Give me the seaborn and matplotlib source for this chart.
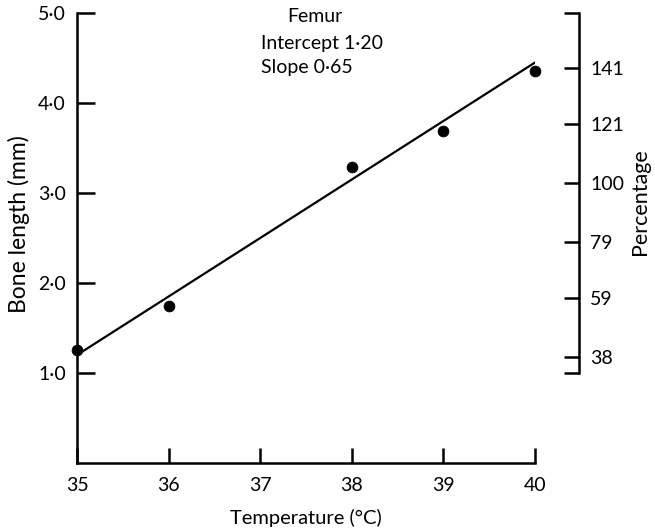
import matplotlib
matplotlib.use("Agg")
import matplotlib.pyplot as plt
import seaborn as sns
import pandas as pd
import numpy as np

# ---- data ----
temps = [35, 36, 38, 39, 40]
lengths = [1.26, 1.74, 3.29, 3.69, 4.36]
fit_temps = [35, 40]
intercept = 1.20
slope = 0.65
x_ticks = [35, 36, 37, 38, 39, 40]
x_labels = ["35", "36", "37", "38", "39", "40"]
y_ticks = [1.0, 2.0, 3.0, 4.0, 5.0]
y_labels = ["1·0", "2·0", "3·0", "4·0", "5·0"]
pct_ticks = [38, 59, 79, 100, 121, 141]
pct_labels = ["38", "59", "79", "100", "121", "141"]
ref_length = 3.11  # mm corresponding to 100 %

sns.set_theme(style="ticks")
plt.rcParams["font.family"] = ["Lato", "DejaVu Sans"]

TICK_FS = 14
ANN_FS = 14
XLAB_FS = 14.5
YLAB_FS = 16.5
PLAB_FS = 15.5

fig = plt.figure(figsize=(6.55, 5.32), dpi=100)
ax = fig.add_axes([77/655, 1-463/532, (535-77)/655, (463-13)/532])

df = pd.DataFrame({"T": temps, "L": lengths})
fit = pd.DataFrame({"T": fit_temps,
                    "L": [intercept + slope * (t - fit_temps[0]) for t in fit_temps]})

sns.lineplot(data=fit, x="T", y="L", ax=ax, color="black", linewidth=1.6)
sns.scatterplot(data=df, x="T", y="L", ax=ax, color="black", s=60,
                edgecolor="black", zorder=5, clip_on=False)

ax.set_xlim(35, 40)
ax.set_ylim(0, 5.0)
ax.set_xticks(x_ticks)
ax.set_xticklabels(x_labels)
ax.set_yticks(y_ticks)
ax.set_yticklabels(y_labels)
for s in ["top", "right"]:
    ax.spines[s].set_visible(False)
for s in ["left", "bottom"]:
    ax.spines[s].set_linewidth(1.8)
    ax.spines[s].set_color("black")
ax.tick_params(axis="y", direction="in", length=13, width=1.8, pad=8,
               labelsize=TICK_FS, colors="black")
ax.tick_params(axis="x", direction="in", length=11, width=1.8, pad=10,
               labelsize=TICK_FS, colors="black")
ax.set_xlabel("Temperature (°C)", fontsize=XLAB_FS, color="black")
ax.set_ylabel("Bone length (mm)", fontsize=YLAB_FS, color="black")
ax.xaxis.set_label_coords(0.5, -0.102)
ax.yaxis.set_label_coords((30-77)/458, 0.53)

# right percentage axis
ax2 = ax.twinx()
top_pct = 5.0 / ref_length * 100
low_pct = 1.0 / ref_length * 100
ax2.set_ylim(0, top_pct)
ax2.spines["right"].set_position(("axes", (579-77)/(535-77)))
ax2.spines["right"].set_bounds(low_pct, top_pct)
ax2.spines["right"].set_linewidth(1.8)
ax2.spines["right"].set_color("black")
for s in ["top", "left", "bottom"]:
    ax2.spines[s].set_visible(False)
ax2.set_yticks([low_pct] + pct_ticks + [top_pct])
ax2.set_yticklabels([""] + pct_labels + [""])
ax2.tick_params(axis="y", direction="in", length=11, width=1.8, pad=8,
                labelsize=TICK_FS, colors="black")
ax2.set_ylabel("Percentage", fontsize=PLAB_FS, color="black")
ax2.yaxis.set_label_coords((630-77)/(535-77), 1-(202-13)/450)

# annotation
ax.text((315-77)/458, 1-(17-13)/450, "Femur", transform=ax.transAxes,
        ha="center", va="center", fontsize=ANN_FS, color="black")
ax.text((261-77)/458, 1-(43-13)/450, "Intercept 1·20", transform=ax.transAxes,
        ha="left", va="center", fontsize=ANN_FS, color="black")
ax.text((261-77)/458, 1-(68-13)/450, "Slope 0·65", transform=ax.transAxes,
        ha="left", va="center", fontsize=ANN_FS, color="black")

fig.savefig("out.png", dpi=100, facecolor="white")
